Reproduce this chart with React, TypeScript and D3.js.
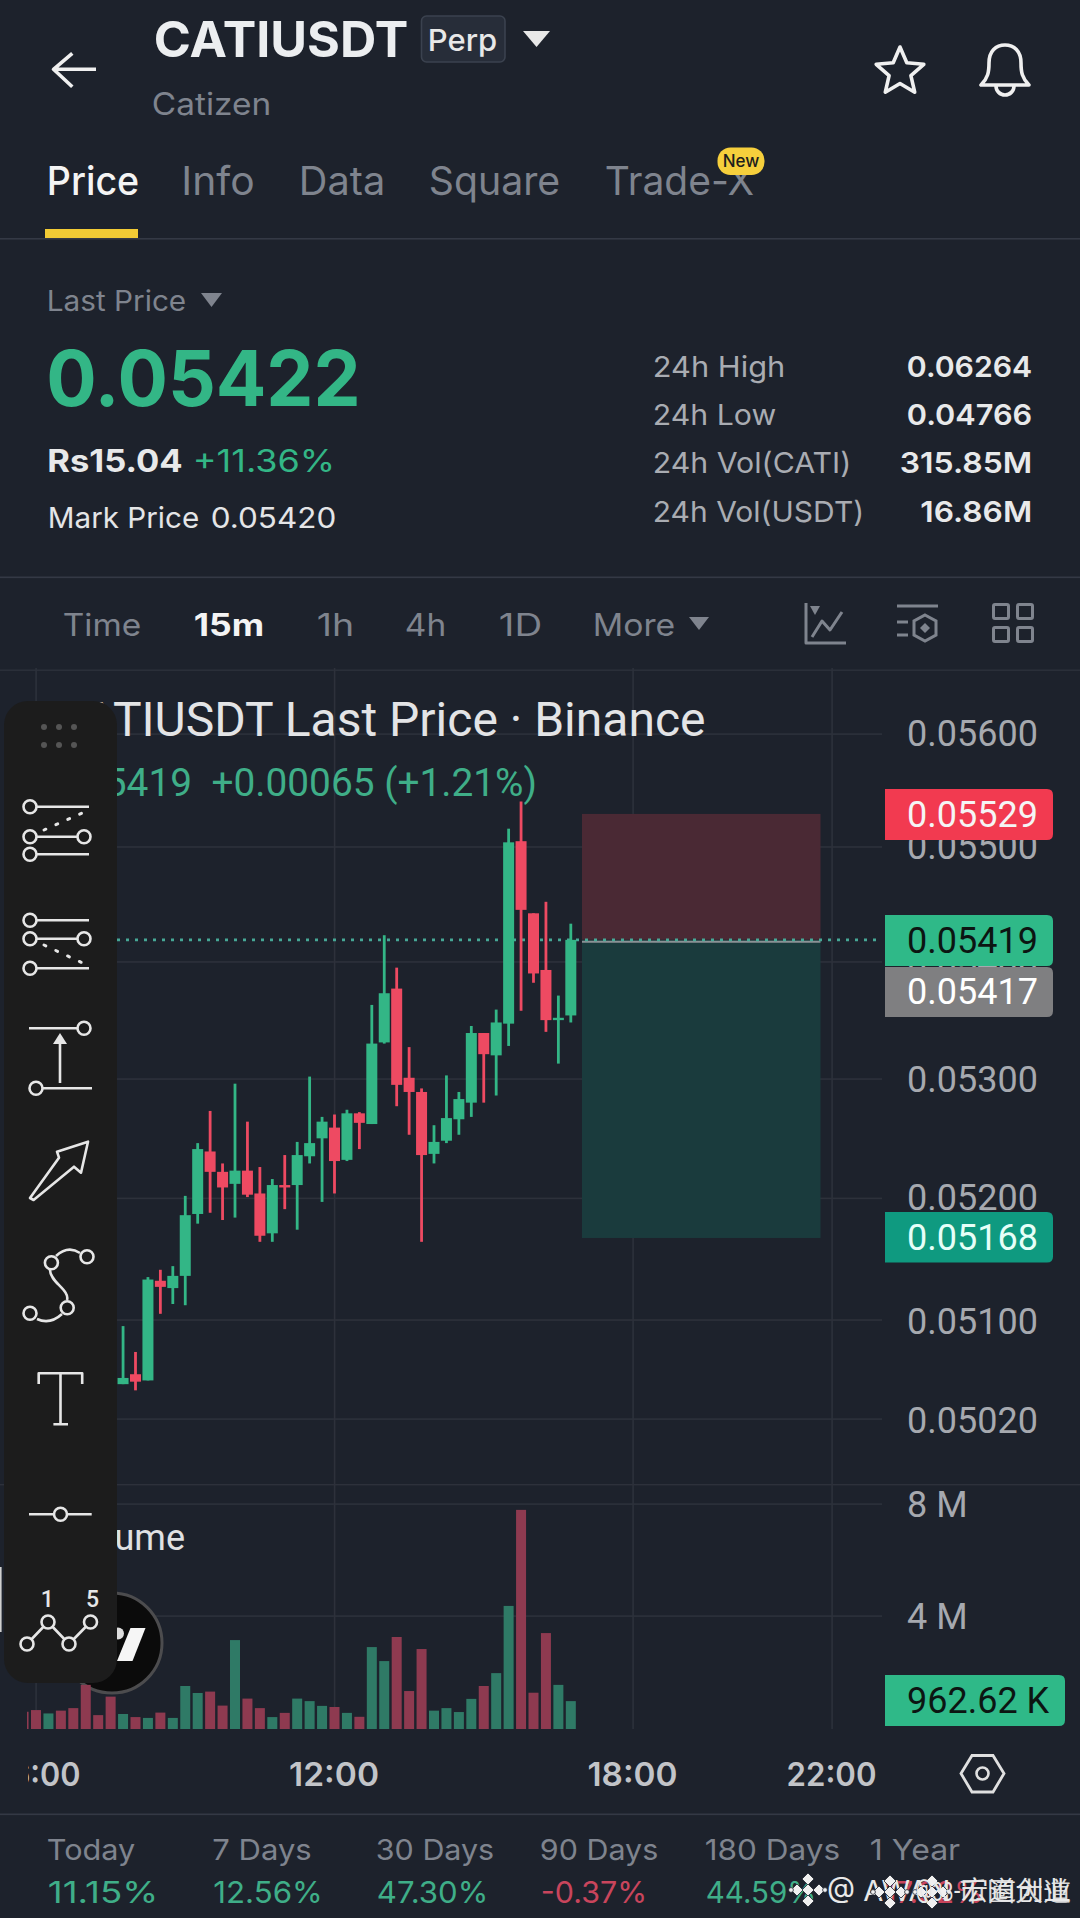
import React from "react";
import * as d3 from "d3";

// ---------- data ----------
const timeTicks = [6, 12, 18, 22];
const timeLabels = ["06:00", "12:00", "18:00", "22:00"];
const priceTicks = [0.056, 0.055, 0.054, 0.053, 0.052, 0.051, 0.0502];
const priceLabels = ["0.05600", "0.05500", "0.05400", "0.05300", "0.05200", "0.05100", "0.05020"];
const volumeTicks = [8, 4];
const volumeTickLabels = ["8 M", "4 M"];

// 15 minute bars, the first volume bar sits at 05:45; candles hidden behind the toolbar are omitted
const firstHour = 5.75;
const firstCandle = 8;
const highs = [50.95,50.74,51.35,51.41,51.44,52.02,52.46,52.73,52.29,52.96,52.64,52.26,52.16,52.36,52.47,53.02,52.68,52.70,52.74,52.72,53.63,54.23,53.95,53.27,52.92,52.61,53.03,52.89,53.45,53.39,53.59,55.16,55.40,54.42,54.52,53.71,54.33];
const lows = [50.48,50.43,50.51,51.05,51.13,51.12,51.79,51.88,51.82,51.84,52.01,51.64,51.64,51.91,51.74,52.29,51.97,52.04,52.31,52.41,52.62,53.30,52.77,52.53,51.64,52.29,52.46,52.53,52.68,52.80,52.86,53.28,53.58,53.82,53.40,53.13,53.48];
const opens = [50.48,50.56,50.51,51.32,51.26,51.36,51.87,52.39,52.22,52.12,52.23,52.04,51.71,52.11,52.11,52.35,52.50,52.59,52.32,52.71,52.62,53.31,53.77,53.01,52.89,52.37,52.48,52.66,52.80,53.39,53.20,53.47,55.05,54.42,53.93,53.50,53.54];
const closes = [50.53,50.50,51.33,51.27,51.36,51.86,52.41,52.22,52.09,52.23,52.03,51.69,52.11,52.09,52.36,52.46,52.64,52.31,52.71,52.63,53.30,53.73,52.95,52.89,52.36,52.47,52.67,52.83,53.39,53.21,53.48,55.04,54.45,53.90,53.50,53.52,54.19];

const volumes = [0.58,0.64,0.52,0.62,0.71,1.54,0.46,1.12,0.50,0.39,0.36,0.55,0.36,1.50,1.25,1.30,0.80,3.14,1.05,0.71,0.39,0.54,1.05,0.96,0.79,0.75,0.54,0.40,2.89,2.39,3.25,1.32,2.82,0.62,0.71,0.57,1.04,1.50,1.96,4.36,7.79,1.26,3.39,1.54,0.96];
const volumeUp = [0,0,1,0,0,0,0,0,1,0,1,0,1,1,1,0,0,1,0,0,1,0,1,1,1,0,1,0,1,1,0,0,0,1,1,1,1,0,1,1,0,0,0,1,1];

const lastPrice = 0.05419;
const stopPrice = 0.05529;
const targetPrice = 0.05168;

const tabs = ["Price", "Info", "Data", "Square", "Trade-X"];
const intervals = ["Time", "15m", "1h", "4h", "1D", "More"];
const periodLabels = ["Today", "7 Days", "30 Days", "90 Days", "180 Days", "1 Year"];
const periodValues = ["11.15%", "12.56%", "47.30%", "-0.37%", "44.59%", "-17.92%"];
const statLabels = ["24h High", "24h Low", "24h Vol(CATI)", "24h Vol(USDT)"];
const statValues = ["0.06264", "0.04766", "315.85M", "16.86M"];

// ---------- scales ----------
const x = d3.scaleLinear().domain([6, 22]).range([36, 832]);
const y = d3.scaleLog().domain([0.056, 0.0502]).range([734, 1419]);
const yVol = d3.scaleLinear().domain([0, 8]).range([1728, 1504]);
const hourOf = (i: number) => firstHour + i * 0.25;

// ---------- colours ----------
const BG = "#1d222c";
const GRID = "#2d313b";
const UP = "#33b686";
const DOWN = "#ee4a62";
const VOL_UP = "#2f7a66";
const VOL_DOWN = "#8e3a50";
const MUTED = "#7f848e";
const AXIS = "#a6a9af";
const ROBOTO = "Roboto, sans-serif";
const INTER = "Inter, sans-serif";
const TOOL = "#e6e6e6";

type TP = { x: number; y: number; s: string; size: number; fill: string; w?: number; weight?: number; anchor?: string; family?: string };
const T = ({ x: px, y: py, s, size, fill, w, weight = 400, anchor = "start", family = INTER }: TP) => {
  const fit = w !== undefined && anchor === "start";
  return (
    <text x={fit ? px - 1.2 : px} y={py} fontSize={size} fill={fill} fontWeight={weight} textAnchor={anchor} fontFamily={family}
      textLength={w !== undefined ? (fit ? w + 2.4 : w) : undefined} lengthAdjust={w !== undefined ? "spacingAndGlyphs" : undefined}>{s}</text>
  );
};

const Caret = ({ p }: { p: number[] }) => (
  <path d={`M${p[0]},${p[1]}L${p[2]},${p[1]}L${(p[0] + p[2]) / 2},${p[3]}Z`} fill={p[4] ? "#e8e8e8" : MUTED} />
);

const Tag = ({ x0, x1, y0, y1, base, fill, text, color }: { x0: number; x1: number; y0: number; y1: number; base: number; fill: string; text: string; color: string }) => (
  <g>
    <path d={`M${x0},${y0}H${x1 - 6}Q${x1},${y0} ${x1},${y0 + 6}V${y1 - 6}Q${x1},${y1} ${x1 - 6},${y1}H${x0}Z`} fill={fill} />
    <T x={907} y={base} s={text} size={36} fill={color} family={ROBOTO} />
  </g>
);

const starPath = () => {
  const pts: string[] = [];
  for (let i = 0; i < 10; i++) {
    const r = i % 2 === 0 ? 25 : 11.5;
    const a = -Math.PI / 2 + (i * Math.PI) / 5;
    pts.push(`${(900 + r * Math.cos(a)).toFixed(1)},${(72 + r * Math.sin(a)).toFixed(1)}`);
  }
  return "M" + pts.join("L") + "Z";
};

const Ring = ({ cx, cy, r = 6.5 }: { cx: number; cy: number; r?: number }) => (
  <circle cx={cx} cy={cy} r={r} fill="#1c1c1c" stroke={TOOL} strokeWidth={2.6} />
);
const L = ({ d, dash, w = 2.6, c = TOOL }: { d: string; dash?: string; w?: number; c?: string }) => (
  <path d={d} fill="none" stroke={c} strokeWidth={w} strokeDasharray={dash} strokeLinecap={dash ? "round" : "butt"} strokeLinejoin="round" />
);

const Toolbar = () => (
  <g>
    <rect x={4} y={701} width={113} height={982} rx={24} fill="#1c1c1c" />
    {[44, 59, 74].flatMap((cx) => [727, 745].map((cy) => <circle key={`${cx}-${cy}`} cx={cx} cy={cy} r={3} fill="#555" />))}
    <L d="M30,806.7H89M30,836.7H84M30,854.3H89" />
    <L d="M44,830L83,812.7" dash="2 11" w={3} />
    <Ring cx={30} cy={806.7} /><Ring cx={30} cy={836.7} /><Ring cx={84} cy={836.7} /><Ring cx={30} cy={854.3} />
    <L d="M30,920.3H89M30,938.7H84M30,968.3H89" />
    <L d="M44,945L82,962.7" dash="2 11" w={3} />
    <Ring cx={30} cy={920.3} /><Ring cx={30} cy={938.7} /><Ring cx={84} cy={938.7} /><Ring cx={30} cy={968.3} />
    <L d="M29,1028.3H84M36,1088.3H92M60,1083V1040" />
    <path d="M60,1033L67,1044H53Z" fill={TOOL} />
    <Ring cx={84} cy={1028.3} /><Ring cx={36} cy={1088.3} />
    <L d="M30,1198L59,1157.7L57,1151.7L88,1141.7L81,1172.7L74,1166.7L33.6,1200Z" />
    <L d="M56,1256Q68,1245 80,1253M50,1270C50,1282 70,1290 67,1300M37,1319Q50,1325 62,1314" />
    <Ring cx={87} cy={1256.7} /><Ring cx={51.4} cy={1262.7} /><Ring cx={67.2} cy={1307.7} /><Ring cx={30} cy={1313.3} />
    <L d="M38.7,1384V1373.3H82.2V1384M60.5,1373.3V1424.3M53.4,1424.3H68" />
    <L d="M29,1514.3H91.7" /><Ring cx={60.5} cy={1514.3} />
    <T x={47.4} y={1607} s="1" size={23} fill={TOOL} anchor="middle" family={ROBOTO} weight={500} />
    <T x={92.5} y={1607} s="5" size={23} fill={TOOL} anchor="middle" family={ROBOTO} weight={500} />
    <L d="M27,1644L48,1622L69,1644L90.5,1622" />
    <Ring cx={27} cy={1644} /><Ring cx={48} cy={1622} /><Ring cx={69} cy={1644} /><Ring cx={90.5} cy={1622} />
    <rect x={0} y={1567} width={1.6} height={65} fill="#cfcfcf" />
  </g>
);

const Binance = ({ cx, cy }: { cx: number; cy: number }) => (
  <g fill="#f0f0f0" stroke={BG} strokeWidth={0.8}>
    {[[0, -11], [-11, 0], [11, 0], [0, 11], [0, 0]].map(([dx, dy]) => (
      <path key={`${dx}${dy}`} d={`M${cx + dx},${cy + dy - 6}L${cx + dx + 6},${cy + dy}L${cx + dx},${cy + dy + 6}L${cx + dx - 6},${cy + dy}Z`} />
    ))}
    <circle cx={cx + 17} cy={cy} r={2.4} />
    <circle cx={cx - 17} cy={cy} r={2.4} />
  </g>
);

export default function App() {
  const tabX = [48, 182.5, 300, 430, 606];
  const tabW = [90, 71, 84, 129, 147];
  const intX = [64, 195, 318, 406, 500, 594];
  const intW = [76, 68, 35, 39, 41, 80];
  const perX = [48, 213.5, 377, 541, 706, 871];
  const perW = [86, 97, 116, 116, 133, 88];
  const perVW = [108, 107, 109, 104, 108, 110];
  const statW = [130, 121, 196, 209];
  const statVx = [908, 908, 901, 921.5];
  const statY = [377, 425, 473, 521.5];
  const priceBase = [746, 859, 974, 1092, 1210, 1333.5, 1433];

  return (
    <svg width={1080} height={1918} viewBox="0 0 1080 1918" style={{ position: "fixed", left: 0, top: 0, display: "block" }}>
      <defs>
        <clipPath id="xclip"><rect x={28} y={1730} width={1052} height={90} /></clipPath>
        <clipPath id="volclip"><rect x={27} y={1490} width={860} height={245} /></clipPath>
      </defs>
      <rect width={1080} height={1918} fill={BG} />

      {/* header */}
      <L d="M54,69.3H96M72.3,53.3L53.5,69.3L72.3,86.7" w={3.6} c="#f0f0f0" />
      <T x={155} y={56.5} s="CATIUSDT" size={49} weight={700} fill="#eceef0" w={252} />
      <rect x={421.5} y={16} width={83.5} height={46} rx={5} fill="#272d39" stroke="#3b424f" strokeWidth={1.6} />
      <T x={429} y={51} s="Perp" size={30} fill="#e8e8e8" w={67} weight={500} />
      <Caret p={[523, 31, 550, 47, 1]} />
      <T x={153} y={115} s="Catizen" size={31} fill={MUTED} w={117} />
      <path d={starPath()} fill="none" stroke="#f0f0f0" strokeWidth={3.6} strokeLinejoin="round" />
      <path d="M981,85H1029C1022,78 1021,72 1021,63C1021,51 1014,45 1005,45C996,45 989,51 989,63C989,72 988,78 981,85Z" fill="none" stroke="#f0f0f0" strokeWidth={3.6} strokeLinejoin="round" />
      <path d="M996,86A9,9 0 0 0 1014,86" fill="none" stroke="#f0f0f0" strokeWidth={3.6} />

      {tabs.map((s, i) => (
        <T key={s} x={tabX[i]} y={195} s={s} size={39} w={tabW[i]} weight={i === 0 ? 500 : 400} fill={i === 0 ? "#f4f4f4" : MUTED} />
      ))}
      <rect x={717.5} y={147.5} width={47} height={27.5} rx={13} fill="#f6cf3c" />
      <T x={741} y={167} s="New" size={17} fill="#1d1d1d" anchor="middle" weight={500} />
      <rect x={45} y={229} width={93} height={9.5} fill="#f2cb35" />
      <rect x={0} y={238} width={1080} height={1.6} fill="#343945" />

      {/* price block */}
      <T x={48} y={310.5} s="Last Price" size={28} fill={MUTED} w={137} />
      <Caret p={[201, 293, 222, 307, 0]} />
      <T x={47.5} y={406} s="0.05422" size={77} weight={700} fill={UP} w={312} />
      <T x={48.5} y={472} s="Rs15.04" size={31} weight={700} fill="#e8e9ea" w={133} />
      <T x={194} y={472} s="+11.36%" size={31} fill={UP} w={140} />
      <T x={49} y={528} s="Mark Price" size={29} fill="#e4e5e7" w={149} />
      <T x={212} y={528} s="0.05420" size={29} fill="#e4e5e7" w={123} />
      {statLabels.map((s, i) => (
        <g key={s}>
          <T x={654} y={statY[i]} s={s} size={29} fill="#a9acb2" w={statW[i]} />
          <T x={statVx[i]} y={statY[i]} s={statValues[i]} size={29} fill="#e8e9ea" weight={600} w={1031 - statVx[i]} />
        </g>
      ))}
      <rect x={0} y={576.5} width={1080} height={1.6} fill="#343945" />

      {/* interval row */}
      {intervals.map((s, i) => (
        <T key={s} x={intX[i]} y={636} s={s} size={31} w={intW[i]} weight={i === 1 ? 700 : 400} fill={i === 1 ? "#f4f4f4" : MUTED} />
      ))}
      <Caret p={[689, 617, 709, 630, 0]} />
      <L d="M806,603V643H846M812,637L822,621L830,630L842,612" w={3} c={MUTED} />
      <path d="M810,606H820L815,615Z" fill={MUTED} />
      <L d="M897,606H938M897,622H908M897,635H908" w={3} c={MUTED} />
      <path d="M925,615L936,621V635L925,641L914,635V621Z" fill="none" stroke={MUTED} strokeWidth={3} />
      <path d="M925,623L930,628L925,633L920,628Z" fill={MUTED} />
      {[[992, 603], [1016, 603], [992, 626], [1016, 626]].map(([a, b]) => (
        <rect key={`${a}${b}`} x={a + 1.5} y={b + 1.5} width={15} height={14} rx={1.5} fill="none" stroke={MUTED} strokeWidth={3} />
      ))}

      {/* chart frame and grid */}
      <rect x={0} y={669.5} width={1080} height={1.4} fill={GRID} />
      <rect x={0} y={1484} width={1080} height={1.4} fill={GRID} />
      {priceTicks.map((p) => <rect key={p} x={27} y={(y(p) as number) - 0.7} width={855} height={1.6} fill={GRID} />)}
      {volumeTicks.map((v) => <rect key={v} x={27} y={yVol(v) - 0.7} width={855} height={1.6} fill={GRID} />)}
      {timeTicks.map((h) => <rect key={h} x={x(h) - 0.7} y={668} width={1.6} height={1061} fill={GRID} />)}

      {/* position tool */}
      <rect x={582} y={y(stopPrice)} width={238.5} height={(y(lastPrice) as number) - (y(stopPrice) as number)} fill="#4a2934" />
      <rect x={582} y={y(lastPrice)} width={238.5} height={(y(targetPrice) as number) - (y(lastPrice) as number) + 1} fill="#1a3b3d" />
      <line x1={582} x2={820.5} y1={(y(lastPrice) as number) + 2} y2={(y(lastPrice) as number) + 2} stroke="#8c9296" strokeWidth={2} />

      {/* last price line */}
      <line x1={117} x2={878} y1={y(lastPrice)} y2={y(lastPrice)} stroke="#46a896" strokeWidth={2.6} strokeDasharray="3 6" />

      {/* candles */}
      {highs.map((_, k) => {
        const i = k + firstCandle;
        const up = closes[k] >= opens[k];
        const c = up ? UP : DOWN;
        const cx = x(hourOf(i));
        const top = y(Math.max(opens[k], closes[k]) / 1000) as number;
        const bot = y(Math.min(opens[k], closes[k]) / 1000) as number;
        return (
          <g key={i}>
            <rect x={cx - 1.4} y={y(highs[k] / 1000)} width={2.8} height={(y(lows[k] / 1000) as number) - (y(highs[k] / 1000) as number)} fill={c} />
            <rect x={cx - 5.5} y={top} width={11} height={Math.max(bot - top, 2)} fill={c} />
          </g>
        );
      })}

      {/* volume */}
      <T x={185} y={1550} s="Volume" size={36} fill="#e0e1e3" anchor="end" family={ROBOTO} />
      <circle cx={112} cy={1643} r={50} fill="#0b0b0b" stroke="#4c4c4e" strokeWidth={3} />
      <path d="M130.5,1628H145.5L132.5,1661H117Z" fill="#f6f6f6" />
      <circle cx={118} cy={1633.5} r={6} fill="#dddddd" />
      <g clipPath="url(#volclip)">
        {volumes.map((v, i) => (
          <rect key={i} x={x(hourOf(i)) - 5} y={yVol(v)} width={10} height={1729 - yVol(v)} fill={volumeUp[i] ? VOL_UP : VOL_DOWN} />
        ))}
      </g>

      {/* chart title */}
      <T x={705.5} y={735.5} s="CATIUSDT Last Price · Binance" size={48} fill="#e3e4e6" anchor="end" family={ROBOTO} />
      <T x={192} y={796} s="0.05419" size={38.8} fill="#3fae88" anchor="end" family={ROBOTO} />
      <T x={537} y={796} s="+0.00065 (+1.21%)" size={38.8} fill="#3fae88" anchor="end" family={ROBOTO} />

      {/* axes */}
      {priceLabels.map((s, i) => (
        <T key={s} x={907} y={priceBase[i]} s={s} size={36} fill={AXIS} family={ROBOTO} />
      ))}
      {volumeTickLabels.map((s, i) => (
        <T key={s} x={907} y={i === 0 ? 1517 : 1628.5} s={s} size={36} fill={AXIS} family={ROBOTO} />
      ))}
      <Tag x0={885} x1={1053} y0={789} y1={840} base={827} fill="#f23a50" text="0.05529" color="#f5f5f5" />
      <Tag x0={885} x1={1053} y0={915} y1={966} base={953} fill="#2fb988" text="0.05419" color="#0c1512" />
      <Tag x0={885} x1={1053} y0={967} y1={1017} base={1004} fill="#7f7f81" text="0.05417" color="#ffffff" />
      <Tag x0={885} x1={1053} y0={1212} y1={1262.5} base={1250} fill="#0f9a80" text="0.05168" color="#e6fff8" />
      <Tag x0={885} x1={1065} y0={1675} y1={1726} base={1713} fill="#2fb988" text="962.62 K" color="#0c1512" />

      <Toolbar />

      {/* time axis */}
      <g clipPath="url(#xclip)">
        {timeLabels.map((s, i) => (
          <T key={s} x={x(timeTicks[i]) - 0.5} y={1786} s={s} size={33} weight={600} fill="#c2c4c8" anchor="middle" w={90} />
        ))}
      </g>
      <path d="M961,1773.5L972,1755.5H993L1004,1773.5L993,1792H972Z" fill="none" stroke="#e0e0e0" strokeWidth={2.8} />
      <circle cx={982.5} cy={1773.5} r={6} fill="none" stroke="#e0e0e0" strokeWidth={2.6} />
      <rect x={0} y={1813.5} width={1080} height={1.6} fill="#343945" />

      {/* period performance */}
      {periodLabels.map((s, i) => (
        <g key={s}>
          <T x={perX[i]} y={1860} s={s} size={29} fill={MUTED} w={perW[i]} />
          <T x={perX[i] + 1} y={1903} s={periodValues[i]} size={30} w={perVW[i]} fill={periodValues[i].startsWith("-") ? "#c9455c" : "#3fae88"} />
        </g>
      ))}

      {/* watermark */}
      <Binance cx={808} cy={1890} />
      <T x={827} y={1901} s="@ AWAN" size={29} fill="#e8e8e8" />
      <Binance cx={890} cy={1892} />
      <Binance cx={932} cy={1892} />
      <T x={917} y={1901} s="@33-" size={26} fill="#e8e8e8" w={43} />
      <T x={960} y={1901} s="币圈大道" size={26} fill="#d8d8d8" family="'Noto Sans CJK SC'" w={110} />
      <T x={962} y={1900} s="宏道创业" size={26} fill="#e8e8e8" family="'Noto Sans CJK SC'" w={108} />
    </svg>
  );
}
